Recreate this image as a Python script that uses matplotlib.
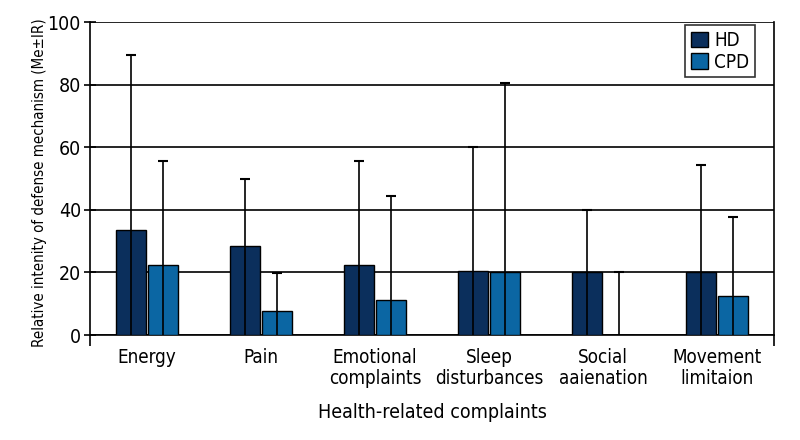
import numpy as np
import matplotlib
matplotlib.use("Agg")
import matplotlib.pyplot as plt

plt.rcParams['font.family'] = ['DejaVu Sans']
plt.rcParams['font.stretch'] = 'condensed'

categories = ["Energy", "Pain", "Emotional\ncomplaints", "Sleep\ndisturbances",
              "Social\naaienation", "Movement\nlimitaion"]
hd_me = [33.4, 28.4, 22.5, 20.3, 20.0, 20.0]
hd_upper = [89.6, 49.8, 55.6, 60.0, 39.8, 54.3]
cpd_me = [22.3, 7.6, 11.1, 20.2, 0.0, 12.5]
cpd_upper = [55.6, 19.8, 44.4, 80.5, 20.1, 37.6]

hd_color = "#0b2f5c"
cpd_color = "#0b66a3"

fig = plt.figure(figsize=(8, 4.4), dpi=100)
ax = fig.add_axes([0.1125, 0.2386, 0.855, 0.7114])

x = np.arange(len(categories)) + 0.5
w = 0.265
xh = x - w / 2 - 0.008
xc = x + w / 2 + 0.008

ax.bar(xh, hd_me, w, color=hd_color, edgecolor="black", linewidth=1,
       label="HD", zorder=3)
ax.bar(xc, cpd_me, w, color=cpd_color, edgecolor="black", linewidth=1,
       label="CPD", zorder=3)
# IR whiskers drawn from the baseline, as in the original
ax.vlines(xh, 0, hd_upper, color="black", linewidth=1.2, zorder=4)
ax.vlines(xc, 0, cpd_upper, color="black", linewidth=1.2, zorder=4)
ax.plot(xh, hd_upper, ls="none", marker="_", ms=7, mew=1.5, color="black", zorder=4)
ax.plot(xc, cpd_upper, ls="none", marker="_", ms=7, mew=1.5, color="black", zorder=4)

ax.set_xlim(0, len(categories))
ax.set_ylim(0, 100)
ax.set_yticks([0, 20, 40, 60, 80, 100])
ax.yaxis.grid(True, color="black", linewidth=1.2, zorder=0)
ax.set_axisbelow(True)
ax.tick_params(axis="y", direction="inout", length=9, width=1.2, labelsize=14, pad=2)

ax.set_xticks([0, len(categories)])
ax.set_xticklabels([])
ax.tick_params(axis="x", direction="out", length=8, width=1.2)
for xi, lab in zip(x, categories):
    ax.text(xi, -4, lab, ha="center", va="top", fontsize=13.5, linespacing=1.15,
            transform=ax.transData)

ax.spines["top"].set_visible(False)
for s in ["left", "right", "bottom"]:
    ax.spines[s].set_linewidth(1.2)

fig.text(0.05, 0.586, "Relative intenity of defense mechanism (Me\u00b1IR)", fontsize=10.8,
         rotation=90, ha="center", va="center")
fig.text(0.54, 0.063, "Health-related complaints", ha="center", va="center", fontsize=14)

leg = ax.legend(loc="upper right", bbox_to_anchor=(0.972, 0.99), borderaxespad=0,
                fontsize=13.5, frameon=True, fancybox=False, edgecolor="black",
                handlelength=0.9, handleheight=0.9, handletextpad=0.35,
                borderpad=0.3, labelspacing=0.15)
leg.get_frame().set_linewidth(1.2)

fig.savefig("out.png", dpi=100)
